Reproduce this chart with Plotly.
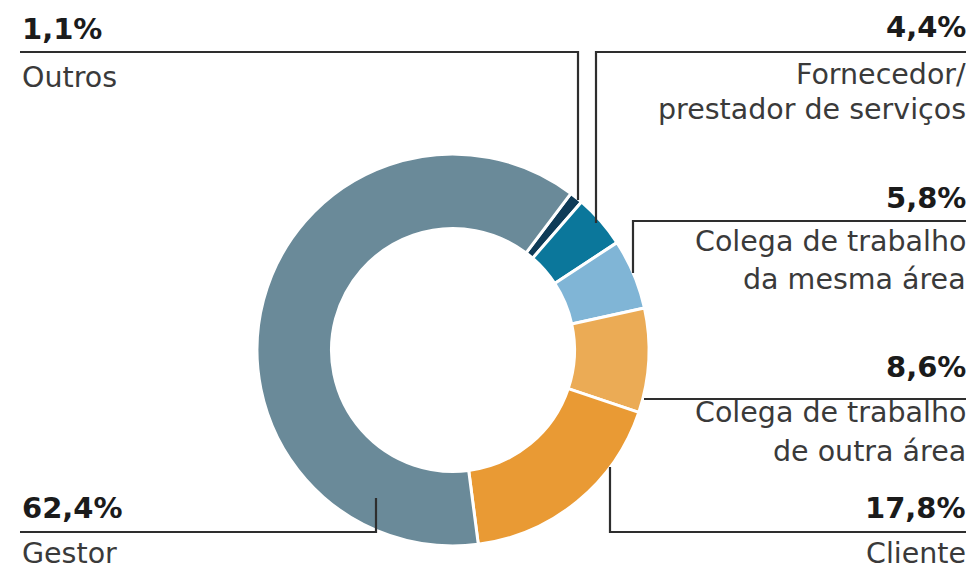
import plotly.graph_objects as go

# ---- data ----
categories = ["Outros", "Fornecedor/<br>prestador de serviços", "Colega de trabalho<br>da mesma área",
              "Colega de trabalho<br>de outra área", "Cliente", "Gestor"]
shares = [1.1, 4.4, 5.8, 8.6, 17.8, 62.4]

# ---- style ----
colors = ["#0f3b57", "#0b779b", "#80b5d6", "#ebab55", "#e99a34", "#6a8a99"]
W, H = 974, 571
OFF = 8  # page body margin: figure is drawn 8px from the window corner
cx, cy, R = 453, 350, 196
FONT = "DejaVu Sans"
LINE_COLOR = "#2e2e2e"

def px(x):
    return (x - OFF) / W

def py(y):
    return 1 - (y - OFF) / H

fig = go.Figure(go.Pie(
    labels=[c.replace("<br>", " ") for c in categories],
    values=shares,
    sort=False,
    direction="clockwise",
    rotation=37,
    hole=0.62,
    marker=dict(colors=colors, line=dict(color="white", width=3)),
    textinfo="none",
    hoverinfo="label+percent",
    showlegend=False,
    domain=dict(x=[px(cx - R), px(cx + R)], y=[py(cy + R), py(cy - R)]),
))

# label placement: (side, x, y of percentage, y of first text line, line gap)
placements = [
    ("left", 20, 29, 77.5, 0),
    ("right", 968, 27.5, 74.5, 35),
    ("right", 968, 197.5, 241.5, 38),
    ("right", 968, 367, 412.5, 39),
    ("right", 968, 508, 553.5, 0),
    ("left", 20, 508, 553.5, 0),
]

annotations = []
for cat, val, (side, x, ypct, ytxt, gap) in zip(categories, shares, placements):
    anchor = "left" if side == "left" else "right"
    pct = f"{val:.1f}%".replace(".", ",")
    annotations.append(dict(
        text=f"<b>{pct}</b>", x=px(x), y=py(ypct), xref="paper", yref="paper",
        xanchor=anchor, yanchor="middle", showarrow=False,
        font=dict(family=FONT, size=29, color="#1b1b1b")))
    for i, line in enumerate(cat.split("<br>")):
        annotations.append(dict(
            text=line, x=px(x), y=py(ytxt + i * gap), xref="paper", yref="paper",
            xanchor=anchor, yanchor="middle", showarrow=False,
            font=dict(family=FONT, size=28.5, color="#3a3a3a")))

# leader lines (screen pixel positions converted to paper coordinates)
leaders = [
    [(20, 52), (578, 52), (578, 200)],
    [(596, 223), (596, 52), (974, 52)],
    [(633, 273), (633, 221), (974, 221)],
    [(644, 399), (974, 399)],
    [(610, 467), (610, 532), (974, 532)],
    [(376, 498), (376, 532), (20, 532)],
]
shapes = []
for pts in leaders:
    path = "M " + " L ".join(f"{px(x):.5f},{py(y):.5f}" for x, y in pts)
    shapes.append(dict(type="path", path=path, xref="paper", yref="paper",
                       line=dict(color=LINE_COLOR, width=2.2)))

fig.update_layout(
    width=W, height=H,
    margin=dict(l=0, r=0, t=0, b=0),
    paper_bgcolor="white", plot_bgcolor="white",
    annotations=annotations, shapes=shapes,
)

fig.write_html("out.html")
